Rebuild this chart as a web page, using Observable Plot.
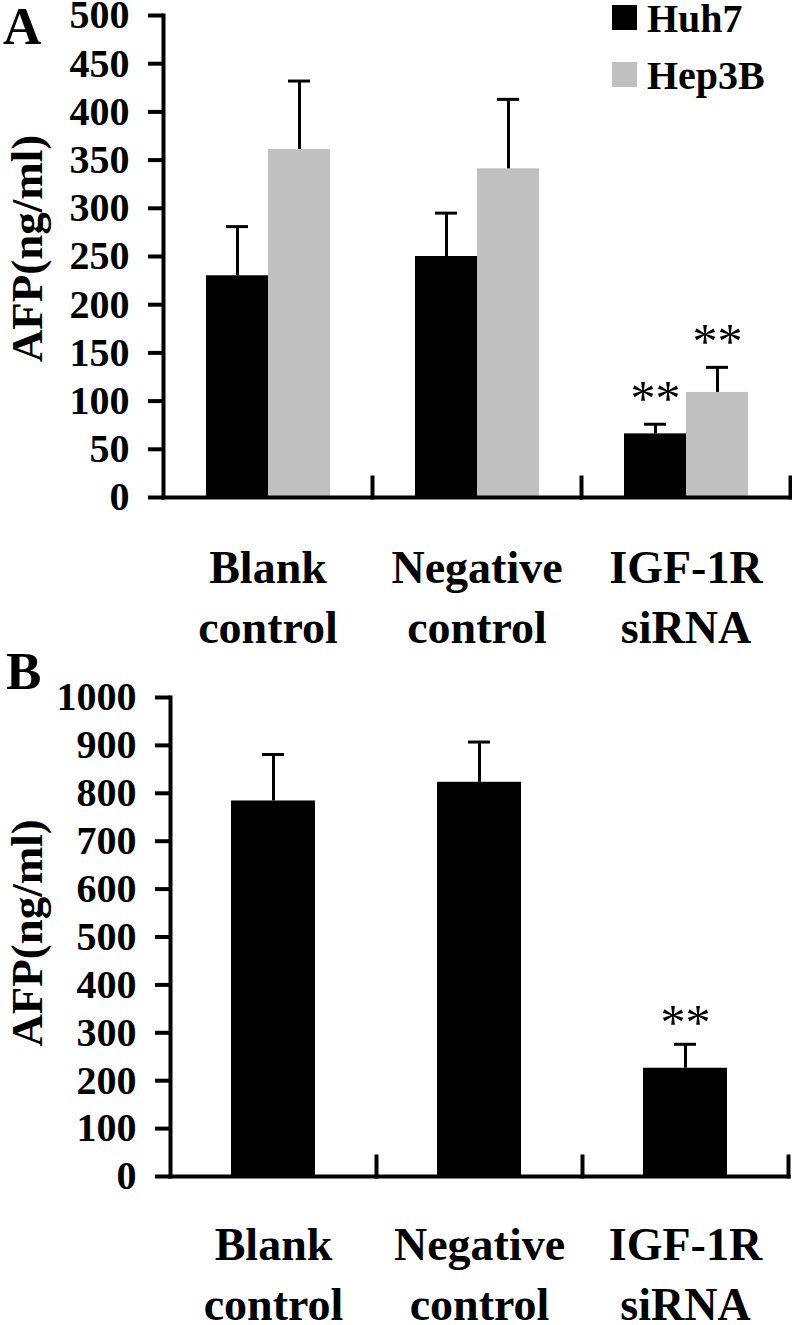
<!DOCTYPE html>
<html><head><meta charset="utf-8">
<script src="https://cdn.jsdelivr.net/npm/d3@7"></script>
<script src="https://cdn.jsdelivr.net/npm/@observablehq/plot@0.6"></script>
<style>
body{margin:0;background:#fff}
#wrap{position:relative;width:792px;height:1325px;overflow:hidden;background:#fff;font-family:"Liberation Serif","Times New Roman",serif;font-weight:bold;color:#000}
.panel{position:absolute;left:0}
.letter{position:absolute;font-size:53px;line-height:53px}
.lrow{position:absolute;left:612px;height:25px;display:flex;align-items:center}
.sw{width:25px;height:25px;display:inline-block}
.lt{font-size:40px;line-height:25px;margin-left:10px;position:relative;top:1px}
</style></head><body>
<div id="wrap"></div>
<script>
// ---------- data ----------
const categories = ["Blank control", "Negative control", "IGF-1R siRNA"];
const seriesA = ["Huh7", "Hep3B"];
const colorsA = ["#000000", "#c0c0c0"];
const huh7Mean = [230, 250, 66];
const huh7Err = [51, 45, 10];
const huh7Sig = ["", "", "**"];
const hep3bMean = [361, 341, 109];
const hep3bErr = [71, 72, 26];
const hep3bSig = ["", "", "**"];
const bMean = [784, 823, 226];
const bErr = [97, 84, 50];
const bSig = ["", "", "**"];
const yTicksA = [0, 50, 100, 150, 200, 250, 300, 350, 400, 450, 500];
const yTicksB = [0, 100, 200, 300, 400, 500, 600, 700, 800, 900, 1000];
const yLabel = "AFP(ng/ml)";
const panelLetters = ["A", "B"];

// ---------- build ----------
const fontFamily = '"Liberation Serif","Times New Roman",serif';
const meansA = [huh7Mean, hep3bMean], errsA = [huh7Err, hep3bErr], sigsA = [huh7Sig, hep3bSig];
const dataA = [];
seriesA.forEach((s, j) => categories.forEach((c, i) => dataA.push({
  category: c, series: s, value: meansA[j][i], err: errsA[j][i], sig: sigsA[j][i]
})));
const dataB = categories.map((c, i) => ({category: c, value: bMean[i], err: bErr[i], sig: bSig[i]}));
const errTop = d => d.value + d.err;
const style = {fontFamily, fontWeight: "bold", color: "black", background: "transparent", overflow: "visible"};
const catFormat = d => d.replace(" ", "\n");

const plotA = Plot.plot({
  width: 792, height: 650,
  marginTop: 15, marginBottom: 153, marginLeft: 162, marginRight: 2,
  style,
  fx: {domain: categories, padding: 0},
  x: {domain: seriesA, paddingInner: 0, paddingOuter: 0.675, axis: null},
  y: {domain: [0, 500]},
  color: {domain: seriesA, range: colorsA},
  marks: [
    Plot.barY(dataA, {fx: "category", x: "series", y: "value", fill: "series"}),
    Plot.ruleX(dataA, {fx: "category", x: "series", y1: "value", y2: errTop, stroke: "black", strokeWidth: 3}),
    Plot.tickY(dataA, {fx: "category", x: "series", y: errTop, stroke: "black", strokeWidth: 3, insetLeft: 20, insetRight: 20}),
    Plot.text(dataA.filter(d => d.sig), {fx: "category", x: "series", y: errTop, text: "sig", lineAnchor: "bottom", dy: -9, fontSize: 50, fontWeight: "normal"}),
    Plot.frame({anchor: "left", facet: "super", strokeWidth: 4}),
    Plot.frame({anchor: "bottom", facet: "super", strokeWidth: 4}),
    Plot.frame({anchor: "right", insetTop: 462, strokeWidth: 4}),
    Plot.axisY({ticks: yTicksA, tickFormat: "d", tickSize: 15, tickPadding: 19, strokeWidth: 4, fontSize: 40, label: null}),
    Plot.text([yLabel], {facet: "super", frameAnchor: "left", rotate: -90, textAnchor: "middle", lineAnchor: "bottom",
      dx: -122, dy: -8, fontSize: 45}),
    Plot.axisFx({anchor: "bottom", tickSize: 0, tickPadding: 43, fontSize: 46, lineHeight: 1.3,
      tickFormat: catFormat, label: null})
  ]
});

const plotB = Plot.plot({
  width: 792, height: 675,
  marginTop: 47, marginBottom: 149, marginLeft: 169, marginRight: 4,
  style,
  fx: {domain: categories, padding: 0},
  y: {domain: [0, 1000]},
  marks: [
    Plot.barY(dataB, {fx: "category", y: "value", fill: "black", insetLeft: 61, insetRight: 61}),
    Plot.ruleX(dataB, {fx: "category", x: null, y1: "value", y2: errTop, stroke: "black", strokeWidth: 3}),
    Plot.tickY(dataB, {fx: "category", y: errTop, stroke: "black", strokeWidth: 3, insetLeft: 92, insetRight: 92}),
    Plot.text(dataB.filter(d => d.sig), {fx: "category", y: errTop, text: "sig", lineAnchor: "bottom", dy: -5, fontSize: 50, fontWeight: "normal"}),
    Plot.frame({anchor: "left", facet: "super", strokeWidth: 4}),
    Plot.frame({anchor: "bottom", facet: "super", strokeWidth: 4}),
    Plot.frame({anchor: "right", insetTop: 459, strokeWidth: 4}),
    Plot.axisY({ticks: yTicksB, tickFormat: "d", tickSize: 15, tickPadding: 19, strokeWidth: 4, fontSize: 40, label: null}),
    Plot.text([yLabel], {facet: "super", frameAnchor: "left", rotate: -90, textAnchor: "middle", lineAnchor: "bottom",
      dx: -129, dy: -4, fontSize: 45}),
    Plot.axisFx({anchor: "bottom", tickSize: 0, tickPadding: 41, fontSize: 46, lineHeight: 1.3,
      tickFormat: catFormat, label: null})
  ]
});

const wrap = document.getElementById("wrap");
const pa = document.createElement("div"); pa.className = "panel"; pa.style.top = "0px"; pa.appendChild(plotA); wrap.appendChild(pa);
const pb = document.createElement("div"); pb.className = "panel"; pb.style.top = "650px"; pb.appendChild(plotB); wrap.appendChild(pb);

[[panelLetters[0], 3, 0], [panelLetters[1], 6, 645]].forEach(([t, x, y]) => {
  const d = document.createElement("div"); d.className = "letter";
  d.style.left = x + "px"; d.style.top = y + "px"; d.textContent = t; wrap.appendChild(d);
});

seriesA.forEach((s, i) => {
  const row = document.createElement("div"); row.className = "lrow";
  row.style.top = (5 + i * 57) + "px";
  const sw = document.createElement("span"); sw.className = "sw"; sw.style.background = colorsA[i];
  const lt = document.createElement("span"); lt.className = "lt"; lt.textContent = s;
  row.appendChild(sw); row.appendChild(lt); wrap.appendChild(row);
});
</script>
</body></html>
